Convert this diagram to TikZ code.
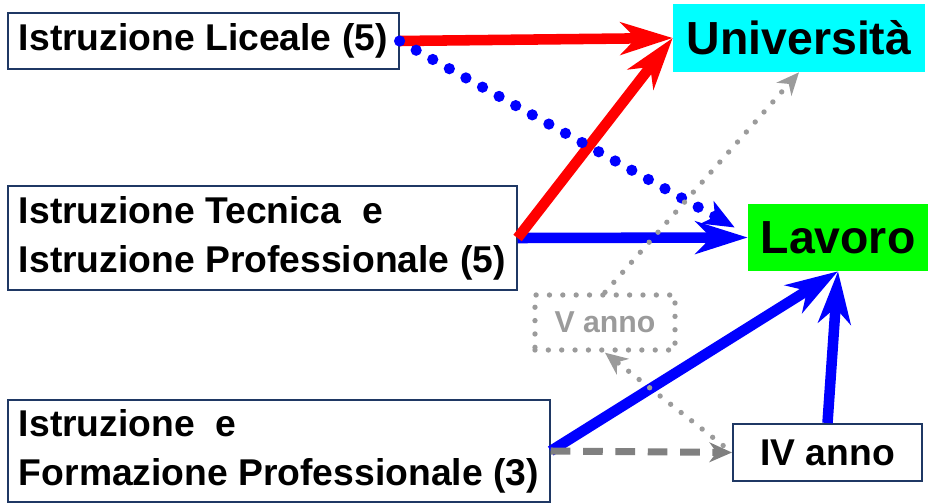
\documentclass[tikz,border=0pt]{standalone}
\usepackage{fontspec}
\setmainfont{Liberation Sans}
\usepackage{xcolor}
\usepackage{tikz}
\usetikzlibrary{arrows.meta}
\definecolor{bordo}{RGB}{31,56,100}
\definecolor{grigio}{RGB}{155,155,155}
\definecolor{grigioscuro}{RGB}{128,128,128}
\definecolor{verde}{RGB}{0,255,0}
\definecolor{azzurro}{RGB}{0,255,255}
\tikzstyle{scuola} = [rectangle, draw=bordo, line width=1.4pt, fill=white, align=left, anchor=west, inner xsep=0.275cm, inner ysep=0pt, font=\fontsize{26.5}{35}\selectfont\bfseries]
\tikzstyle{meta} = [rectangle, inner sep=0pt, font=\fontsize{33}{36}\selectfont\bfseries]
\tikzstyle{anno} = [rectangle, inner sep=0pt, minimum width=4.725cm, minimum height=1.425cm, font=\fontsize{26.5}{30}\selectfont\bfseries]
\tikzstyle{arrow} = [line width=7.5pt, -{Stealth[length=37pt, width=23pt, inset=11pt]}]
\tikzstyle{arrowgray} = [-{Stealth[length=16pt, width=14pt, inset=5pt]}]
\tikzstyle{puntini} = [draw=grigio, line width=3.8pt, line cap=round, dash pattern=on 0pt off 9.5pt]

\begin{document}
\begin{tikzpicture}[x=0.025cm, y=-0.025cm]
    \useasboundingbox (0,0) rectangle (928,504);
    \node (liceo) [scuola, minimum height=1.4cm] at (7,41) {Istruzione Liceale (5)};
    \node (tecnico) [scuola, minimum height=2.6cm] at (7,238) {Istruzione Tecnica\ \ e\\Istruzione Professionale (5)};
    \node (ifp) [scuola, minimum height=2.55cm] at (7,451) {Istruzione\ \ e\\Formazione Professionale (3)};
    \node (univ) [meta, fill=azzurro, minimum width=6.3cm, minimum height=1.7cm] at (799,38) {Università};
    \node (lavoro) [meta, fill=verde, minimum width=4.5cm, minimum height=1.675cm] at (838,237.5) {Lavoro};
    \node (vanno) [anno, puntini, text=grigio, minimum width=3.5cm, minimum height=1.375cm, font=\fontsize{21.5}{24}\selectfont\bfseries] at (605,322.5) {V anno};
    \node (quarto) [anno, draw=bordo, line width=1.4pt, fill=white] at (827.5,452.5) {IV anno};
    \coordinate (punta) at ([xshift=-0.325cm, yshift=0.25cm]lavoro.west);
    % frecce
    \draw [arrow, blue] (tecnico.east) -- (lavoro.west);
    \draw [arrow, red] (liceo.east) -- (univ.west);
    \draw [arrow, red] (tecnico.east) -- (univ.west);
    \draw [blue, line width=8pt, line cap=round, dash pattern=on 0pt off 13.5pt, -{Stealth[length=22pt, width=18pt, inset=6pt]}] (liceo.east) -- (punta);
    \draw [arrow, blue] (ifp.east) -- (lavoro.south);
    \draw [arrow, blue] (quarto.north) -- (lavoro.south);
    \draw [puntini, arrowgray] (vanno.north) -- (univ.south);
    \draw [grigioscuro, line width=5pt, dash pattern=on 14pt off 9pt, arrowgray] (ifp.east) -- (quarto.west);
    \draw [puntini, arrowgray, shorten <=8pt] (quarto.west) -- (vanno.south);
\end{tikzpicture}
\end{document}
